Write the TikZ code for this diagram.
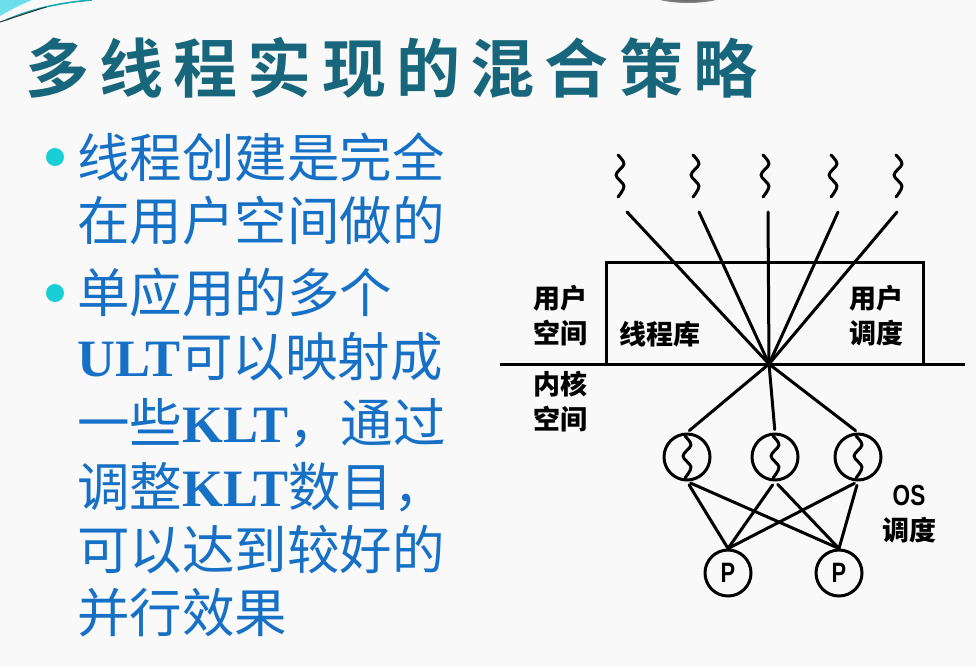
\documentclass[tikz,border=0pt]{standalone}
\usepackage{fontspec}
\newfontfamily\cjk{Noto Sans CJK SC}
\IfFontExistsTF{Noto Sans CJK SC Black}
  {\newfontfamily\titlecjk{Noto Sans CJK SC Black}}
  {\newfontfamily\titlecjk{Noto Sans CJK SC}[UprightFont=*, BoldFont=* Bold]}
\newfontfamily\romanb{Liberation Serif}
\newfontfamily\narrowsans[FakeStretch=0.78]{Liberation Sans}
\definecolor{pagebg}{RGB}{249,249,249}
\definecolor{titleteal}{RGB}{24,102,124}
\definecolor{bodyblue}{RGB}{22,112,198}
\definecolor{bulletcyan}{RGB}{26,206,214}
\definecolor{cornercyan}{RGB}{110,222,236}
\definecolor{cornerteal}{RGB}{20,170,180}
\begin{document}
\begin{tikzpicture}[x=1pt,y=-1pt,
  bodyline/.style={anchor=west, inner sep=0pt, text=bodyblue,
    font=\cjk\fontsize{52.5}{60}\selectfont},
  bulletdot/.style={circle, fill=bulletcyan, minimum size=18pt, inner sep=0pt},
  diagline/.style={line width=3pt, line cap=round, line join=round},
  diaglabel/.style={inner sep=0pt, align=left,
    font=\cjk\bfseries\fontsize{27}{35}\selectfont},
  thread/.style={circle, draw, line width=3pt, minimum size=46pt, inner sep=0pt},
  proc/.style={thread, font=\narrowsans\bfseries\fontsize{28}{30}\selectfont},
  squig/.pic={\draw[line width=3pt, line cap=round, line join=round]
    plot[smooth, tension=0.55] coordinates {(-2,-21) (4,-12) (-4,-1) (4,10) (-2,21)};},
]
% page and clipping frame
\useasboundingbox (0,0) rectangle (976,667);
\clip (0,0) rectangle (976,667);
\fill[pagebg] (0,0) rectangle (976,667);

% corner ornaments
\fill[cornercyan] (0,0) -- (32,0) .. controls (18,6) .. (0,16) -- cycle;
\draw[cornerteal, line width=1.6pt] (6,20) .. controls (30,10) and (55,3) .. (92,0);
\draw[black!80, line width=1pt] (0,22) .. controls (15,17) .. (46,7);
\shade[inner color=black, outer color=black!45] (688,-10) ellipse [x radius=44, y radius=13];

% title
\node[anchor=west, inner sep=0pt, text=titleteal,
  font=\titlecjk\bfseries\fontsize{64}{70}\selectfont\addfontfeature{LetterSpace=16}]
  (title) at (25,68) {多线程实现的混合策略};

% bullet list
\node[bulletdot] (b1) at (55,157) {};
\node[bulletdot] (b2) at (55,293) {};
\node[bodyline] (l1) at (77,157) {线程创建是完全};
\node[bodyline] (l2) at (77,221) {在用户空间做的};
\node[bodyline] (l3) at (77,293) {单应用的多个};
\node[bodyline] (l4) at (77,357) {{\romanb\bfseries ULT}可以映射成};
\node[bodyline] (l5) at (77,423) {一些{\romanb\bfseries KLT}，通过};
\node[bodyline] (l6) at (77,487) {调整{\romanb\bfseries KLT}数目，};
\node[bodyline] (l7) at (77,550) {可以达到较好的};
\node[bodyline] (l8) at (77,613) {并行效果};

% user-level threads converging on the library
\coordinate (c) at (769,364);
\foreach \i/\sx/\lx in {1/620/627, 2/695/699, 3/765/768, 4/833/838, 5/898/897} {
  \pic at (\sx,176) {squig};
  \coordinate (u\i) at (\lx,212);
  \draw[diagline] (u\i) -- (c);
}

% thread library box and user/kernel boundary
\draw[line width=3pt, line join=miter] (606,364) |- (923,262) -- (923,364);
\coordinate (hl) at (500,364);
\coordinate (hr) at (965,364);
\draw[line width=3pt] (hl) -- (hr);

\node[diaglabel] (us) at (560,316) {用户\\空间};
\node[diaglabel] (lib) at (660,334) {线程库};
\node[diaglabel] (uds) at (876,316) {用户\\调度};
\node[diaglabel] (ks) at (560,402) {内核\\空间};

% kernel-level threads
\node[thread] (t1) at (687,457) {};
\node[thread] (t2) at (775,457) {};
\node[thread] (t3) at (858,457) {};
\foreach \t in {t1,t2,t3} {
  \pic at (\t) {squig};
  \draw[diagline, shorten >=3pt] (c) -- (\t.north);
}

% processors
\node[proc] (p1) at (728,573) {P};
\node[proc] (p2) at (839,573) {P};
\foreach \t in {t1,t2,t3} {
  \foreach \p in {p1,p2} {
    \draw[diagline, shorten <=4pt] (\t.south) -- (\p.north);
  }
}

\node[diaglabel, align=center] (os) at (909,514)
  {{\narrowsans\fontsize{29}{35}\selectfont OS}\\调度};
\end{tikzpicture}
\end{document}
